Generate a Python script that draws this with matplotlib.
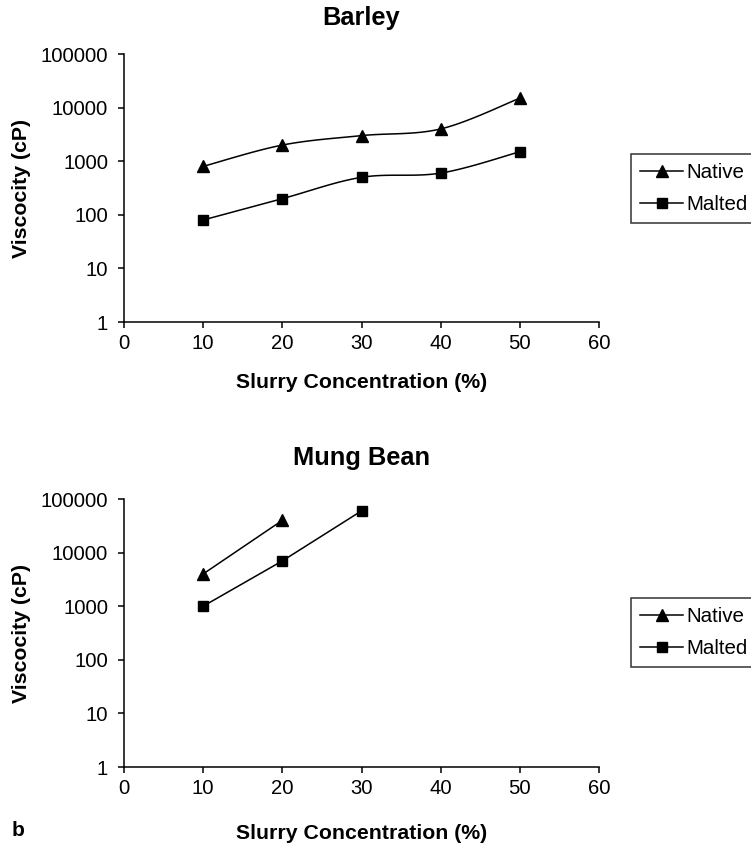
import matplotlib

matplotlib.use("Agg")
import matplotlib.pyplot as plt
import numpy as np

plt.rcParams["font.family"] = ["Liberation Sans", "DejaVu Sans"]

# slurry concentration (%) and viscosity (cP)
barley_conc = [10, 20, 30, 40, 50]
barley_native = [800, 2000, 3000, 4000, 15000]
barley_malted = [80, 200, 500, 600, 1500]

mung_native_conc = [10, 20]
mung_native = [4000, 40000]
mung_malted_conc = [10, 20, 30]
mung_malted = [1000, 7000, 60000]

x_ticks = [0, 10, 20, 30, 40, 50, 60]
y_ticks = [1, 10, 100, 1000, 10000, 100000]

W, H = 751, 847


def smooth(x, y, n=30):
    """Spreadsheet-style smoothed line: cubic Bezier segments with
    Catmull-Rom control points, built in (x, log10 y) space."""
    x = np.asarray(x, float)
    ly = np.log10(np.asarray(y, float))
    pts = np.column_stack([x, ly])
    if len(pts) < 3:
        return x, 10 ** ly
    ext = np.vstack([pts[0], pts, pts[-1]])
    t = np.linspace(0, 1, n)[:, None]
    out = []
    for i in range(len(pts) - 1):
        p0, p1, p2, p3 = ext[i], ext[i + 1], ext[i + 2], ext[i + 3]
        c1 = p1 + (p2 - p0) / 6
        c2 = p2 - (p3 - p1) / 6
        seg = ((1 - t) ** 3 * p1 + 3 * (1 - t) ** 2 * t * c1
               + 3 * (1 - t) * t ** 2 * c2 + t ** 3 * p2)
        out.append(seg if i == 0 else seg[1:])
    out = np.vstack(out)
    return out[:, 0], 10 ** out[:, 1]


def style_axes(ax, title, title_dy, xlabel_y, legend_top):
    ax.set_yscale("log")
    ax.set_xlim(0, 60)
    ax.set_ylim(1, 100000)
    ax.set_xticks(x_ticks)
    ax.set_xticklabels([str(v) for v in x_ticks])
    ax.set_yticks(y_ticks)
    ax.set_yticklabels([str(v) for v in y_ticks])
    ax.yaxis.set_minor_locator(matplotlib.ticker.NullLocator())
    for side in ("top", "right"):
        ax.spines[side].set_visible(False)
    for side in ("left", "bottom"):
        ax.spines[side].set_linewidth(1.1)
    ax.tick_params(axis="both", direction="out", length=4.5, width=1.1,
                   labelsize=14.6)
    ax.tick_params(axis="y", pad=7)
    ax.tick_params(axis="x", pad=4)
    ax.set_ylabel("Viscocity (cP)", fontsize=15.3, fontweight="bold")
    ax.yaxis.set_label_coords(-0.195, 0.5)
    ax.set_xlabel("Slurry Concentration (%)", fontsize=15.3, fontweight="bold")
    ax.xaxis.set_label_coords(0.5, xlabel_y)
    ax.text(0.5, 1 + title_dy, title, transform=ax.transAxes, ha="center",
            va="center", fontsize=18.3, fontweight="bold")
    leg = ax.legend(loc="upper left",
                    bbox_to_anchor=(631 / W, 1 - legend_top / H),
                    bbox_transform=fig.transFigure, frameon=True,
                    fancybox=False, fontsize=14.8, handlelength=2.1,
                    handletextpad=0.15, borderpad=0.45, labelspacing=0.62,
                    borderaxespad=0)
    leg.get_frame().set_edgecolor("black")
    leg.get_frame().set_linewidth(1.1)


fig = plt.figure(figsize=(W / 100, H / 100), dpi=100)

# ---- Barley
ax1 = fig.add_axes([124 / W, 1 - 322 / H, 475 / W, 268 / H])
sx, sy = smooth(barley_conc, barley_native)
ax1.plot(sx, sy, color="black", lw=1.1)
ax1.plot(barley_conc, barley_native, ls="none", marker="^", ms=8,
         color="black")
sx, sy = smooth(barley_conc, barley_malted)
ax1.plot(sx, sy, color="black", lw=1.1)
ax1.plot(barley_conc, barley_malted, ls="none", marker="s", ms=7,
         color="black")
ax1.plot([], [], color="black", lw=1.1, marker="^", ms=8, label="Native")
ax1.plot([], [], color="black", lw=1.1, marker="s", ms=7, label="Malted")
style_axes(ax1, "Barley", 36 / 268, -0.192, 154)

# ---- Mung Bean
ax2 = fig.add_axes([124 / W, 1 - 767 / H, 475 / W, 268 / H])
ax2.plot(mung_native_conc, mung_native, color="black", lw=1.1, marker="^",
         ms=8, label="Native")
ax2.plot(mung_malted_conc, mung_malted, color="black", lw=1.1, marker="s",
         ms=7, label="Malted")
style_axes(ax2, "Mung Bean", 41 / 268, -0.211, 598)

fig.text(12 / W, 1 - 830 / H, "b", fontsize=15, fontweight="bold",
         ha="left", va="center")

fig.savefig("out.png", dpi=100)
